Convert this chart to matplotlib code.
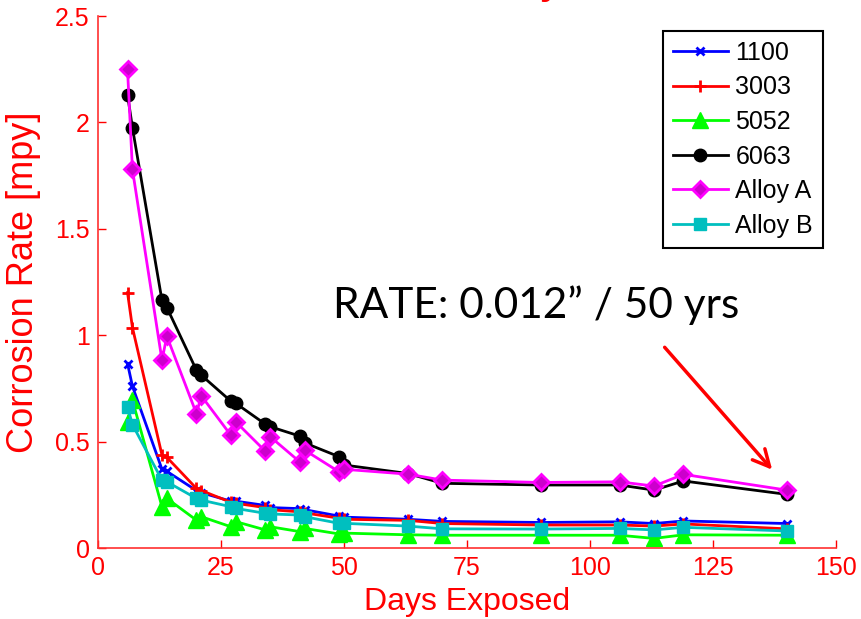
import matplotlib
matplotlib.use("Agg")
import matplotlib.pyplot as plt

# ------------------------------------------------------------
# Corrosion rate vs. days exposed for six aluminium alloys
# ------------------------------------------------------------

days = [6, 7, 13, 14, 20, 21, 27, 28, 34, 35, 41, 42, 49, 50,
        63, 70, 90, 106, 113, 119, 140]

rate_1100 = [0.867, 0.760, 0.370, 0.360, 0.270, 0.260, 0.220, 0.220, 0.200, 0.190,
             0.185, 0.180, 0.150, 0.145, 0.135, 0.125, 0.120, 0.123, 0.115, 0.127, 0.115]
rate_3003 = [1.200, 1.036, 0.437, 0.426, 0.280, 0.270, 0.215, 0.210, 0.190, 0.180,
             0.170, 0.165, 0.140, 0.135, 0.130, 0.115, 0.108, 0.108, 0.103, 0.113, 0.090]
rate_5052 = [0.593, 0.695, 0.194, 0.233, 0.131, 0.147, 0.100, 0.124, 0.085, 0.100,
             0.077, 0.092, 0.066, 0.070, 0.062, 0.060, 0.060, 0.060, 0.045, 0.062, 0.060]
rate_6063 = [2.130, 1.975, 1.164, 1.130, 0.836, 0.812, 0.690, 0.680, 0.582, 0.570,
             0.526, 0.494, 0.429, 0.390, 0.350, 0.304, 0.296, 0.296, 0.272, 0.315, 0.252]
rate_alloy_a = [2.249, 1.779, 0.883, 0.995, 0.632, 0.715, 0.530, 0.593, 0.455, 0.523,
                0.405, 0.460, 0.358, 0.370, 0.347, 0.319, 0.308, 0.311, 0.291, 0.346, 0.272]
rate_alloy_b = [0.663, 0.580, 0.319, 0.311, 0.233, 0.225, 0.194, 0.186, 0.163, 0.160,
                0.155, 0.147, 0.116, 0.116, 0.103, 0.090, 0.089, 0.092, 0.085, 0.097, 0.080]

x_ticks = [0, 25, 50, 75, 100, 125, 150]
y_ticks = [0, 0.5, 1, 1.5, 2, 2.5]
y_tick_labels = ["0", "0.5", "1", "1.5", "2", "2.5"]

note_text = "RATE: 0.012\u201d / 50 yrs"

RED = "#ff0000"
SANS = ["Liberation Sans Narrow", "Liberation Sans", "DejaVu Sans"]

plt.rcParams["font.family"] = SANS

fig = plt.figure(figsize=(8.62, 6.19), dpi=100)
ax = fig.add_axes([98 / 862, 1 - 548 / 619, (836 - 98) / 862, (548 - 16) / 619])

# series (plot order = legend order)
ax.plot(days, rate_1100, color="#0000ff", lw=2, marker="x", ms=6, mew=2, label="1100")
ax.plot(days, rate_3003, color=RED, lw=2, marker="+", ms=9, mew=2, label="3003")
ax.plot(days, rate_5052, color="#00ff00", lw=2, marker="^", ms=11, label="5052")
ax.plot(days, rate_6063, color="black", lw=2, marker="o", ms=9, label="6063")
ax.plot(days, rate_alloy_a, color="#ff00ff", lw=2, marker="D", ms=8,
        mfc="#cc00cc", mec="#ff00ff", mew=2, label="Alloy A")
ax.plot(days, rate_alloy_b, color="#00bfbf", lw=2, marker="s", ms=9,
        mfc="#00bfbf", mec="#00bfbf", label="Alloy B")

ax.set_xlim(0, 150)
ax.set_ylim(0, 2.5)
ax.set_xticks(x_ticks)
ax.set_xticklabels([str(t) for t in x_ticks])
ax.set_yticks(y_ticks)
ax.set_yticklabels(y_tick_labels)

# MATLAB-ish red axes, box off
for side in ["top", "right"]:
    ax.spines[side].set_visible(False)
for side in ["left", "bottom"]:
    ax.spines[side].set_color("#ff3030")
    ax.spines[side].set_linewidth(1.2)
ax.tick_params(colors=RED, direction="in", length=6, width=1, labelsize=18, pad=6)

ax.set_xlabel("Days Exposed", color=RED, fontsize=23, family="Liberation Sans", labelpad=5)
ax.set_ylabel("Corrosion Rate [mpy]", color=RED, fontsize=26, family="Liberation Sans", labelpad=10)

leg = ax.legend(loc="upper right", bbox_to_anchor=(823 / 862, 1 - 31 / 619),
                bbox_transform=fig.transFigure, borderaxespad=0, fancybox=False,
                framealpha=1, edgecolor="black", handlelength=2.2, handletextpad=0.3,
                labelspacing=0.42, borderpad=0.4, prop={"family": "Liberation Sans", "size": 18})
leg.get_frame().set_linewidth(1.5)

# annotation with arrow
ax.text(47.7, 1.08, note_text, fontsize=30.5, family=["Lato", "DejaVu Sans"], color="black",
        ha="left", va="baseline")
ax.annotate("", xy=(137.4, 0.358), xytext=(114.8, 0.953),
            arrowprops=dict(arrowstyle="->", color=RED, lw=2.5, mutation_scale=30))

# descender of the cropped-off title
fig.text(550 / 862, 1.009, "y", color=RED, fontsize=26, family="Liberation Sans",
         fontweight="bold", ha="center", va="baseline")

fig.savefig("out.png", dpi=100)
